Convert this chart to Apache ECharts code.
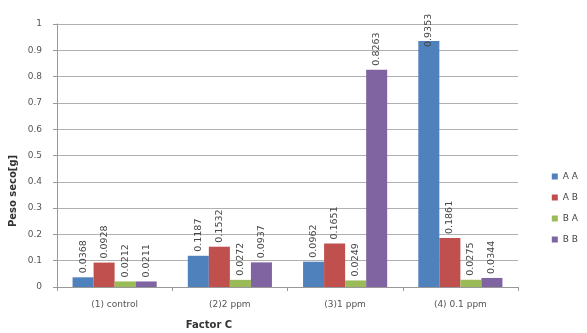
<!DOCTYPE html>
<html>
<head>
<meta charset="utf-8">
<script src="https://cdn.jsdelivr.net/npm/echarts@6/dist/echarts.min.js"></script>
<style>
  html, body { margin: 0; padding: 0; background: #fff; }
  #chart { width: 587px; height: 333px; }
</style>
</head>
<body>
<div id="chart"></div>
<script>
// Factor C levels on the category axis
var categories = ['(1) control', '(2)2 ppm', '(3)1 ppm', '(4) 0.1 ppm'];

// Dry weight (g) for each treatment combination
var seriesNames = ['A A', 'A B', 'B A', 'B B'];
var valuesAA = [0.0368, 0.1187, 0.0962, 0.9353];
var valuesAB = [0.0928, 0.1532, 0.1651, 0.1861];
var valuesBA = [0.0212, 0.0272, 0.0249, 0.0275];
var valuesBB = [0.0211, 0.0937, 0.8263, 0.0344];

var yTicks = [0, 0.1, 0.2, 0.3, 0.4, 0.5, 0.6, 0.7, 0.8, 0.9, 1];

var colors = ['#4F81BD', '#C0504D', '#9BBB59', '#8064A2'];
var allValues = [valuesAA, valuesAB, valuesBA, valuesBB];

var chart = echarts.init(document.getElementById('chart'), null, { renderer: 'canvas' });

var series = seriesNames.map(function (name, i) {
  return {
    name: name,
    type: 'bar',
    // labels that would run past the top of the plot are pulled down onto the bar
    data: allValues[i].map(function (v) {
      return v > 0.9 ? { value: v, label: { distance: -6 } } : v;
    }),
    barGap: '0%',
    barCategoryGap: '27%',
    itemStyle: { color: colors[i] },
    label: {
      show: true,
      position: 'top',
      rotate: 90,
      align: 'left',
      verticalAlign: 'middle',
      distance: 4,
      fontFamily: 'DejaVu Sans',
      fontSize: 9.5,
      color: '#444',
      formatter: function (p) { return String(p.value); }
    }
  };
});

chart.setOption({
  animation: false,
  backgroundColor: '#fff',
  color: colors,
  grid: { left: 57, right: 69, top: 24, bottom: 46, containLabel: false },
  legend: {
    orient: 'vertical',
    right: 4,
    top: 167,
    itemWidth: 6,
    itemHeight: 6,
    itemGap: 12,
    icon: 'rect',
    textStyle: { fontFamily: 'DejaVu Sans', fontSize: 9, color: '#444' },
    data: seriesNames
  },
  xAxis: {
    type: 'category',
    data: categories,
    axisLine: { lineStyle: { color: '#999' } },
    axisTick: { show: true, alignWithLabel: false, length: 4, lineStyle: { color: '#999' } },
    axisLabel: { fontFamily: 'DejaVu Sans', fontSize: 9, color: '#555', margin: 13 }
  },
  yAxis: {
    type: 'value',
    min: 0,
    max: 1,
    interval: 0.1,
    axisLine: { show: true, lineStyle: { color: '#999' } },
    axisTick: { show: true, length: 4, lineStyle: { color: '#999' } },
    axisLabel: {
      fontFamily: 'DejaVu Sans', fontSize: 9, color: '#555', margin: 15,
      formatter: function (v) {
        var t = yTicks.find(function (k) { return Math.abs(k - v) < 1e-9; });
        return t === undefined ? '' : String(t);
      }
    },
    splitLine: { lineStyle: { color: '#b0b0b0', width: 1 } }
  },
  graphic: [
    {
      type: 'text',
      x: 13,
      y: 191,
      rotation: Math.PI / 2,
      style: {
        text: 'Peso seco[g]',
        font: 'bold 10px "DejaVu Sans"',
        fill: '#333',
        textAlign: 'center',
        textVerticalAlign: 'middle'
      }
    },
    {
      type: 'text',
      x: 209,
      y: 325,
      style: {
        text: 'Factor C',
        font: 'bold 10px "DejaVu Sans"',
        fill: '#333',
        textAlign: 'center',
        textVerticalAlign: 'middle'
      }
    }
  ],
  series: series
});
</script>
</body>
</html>
